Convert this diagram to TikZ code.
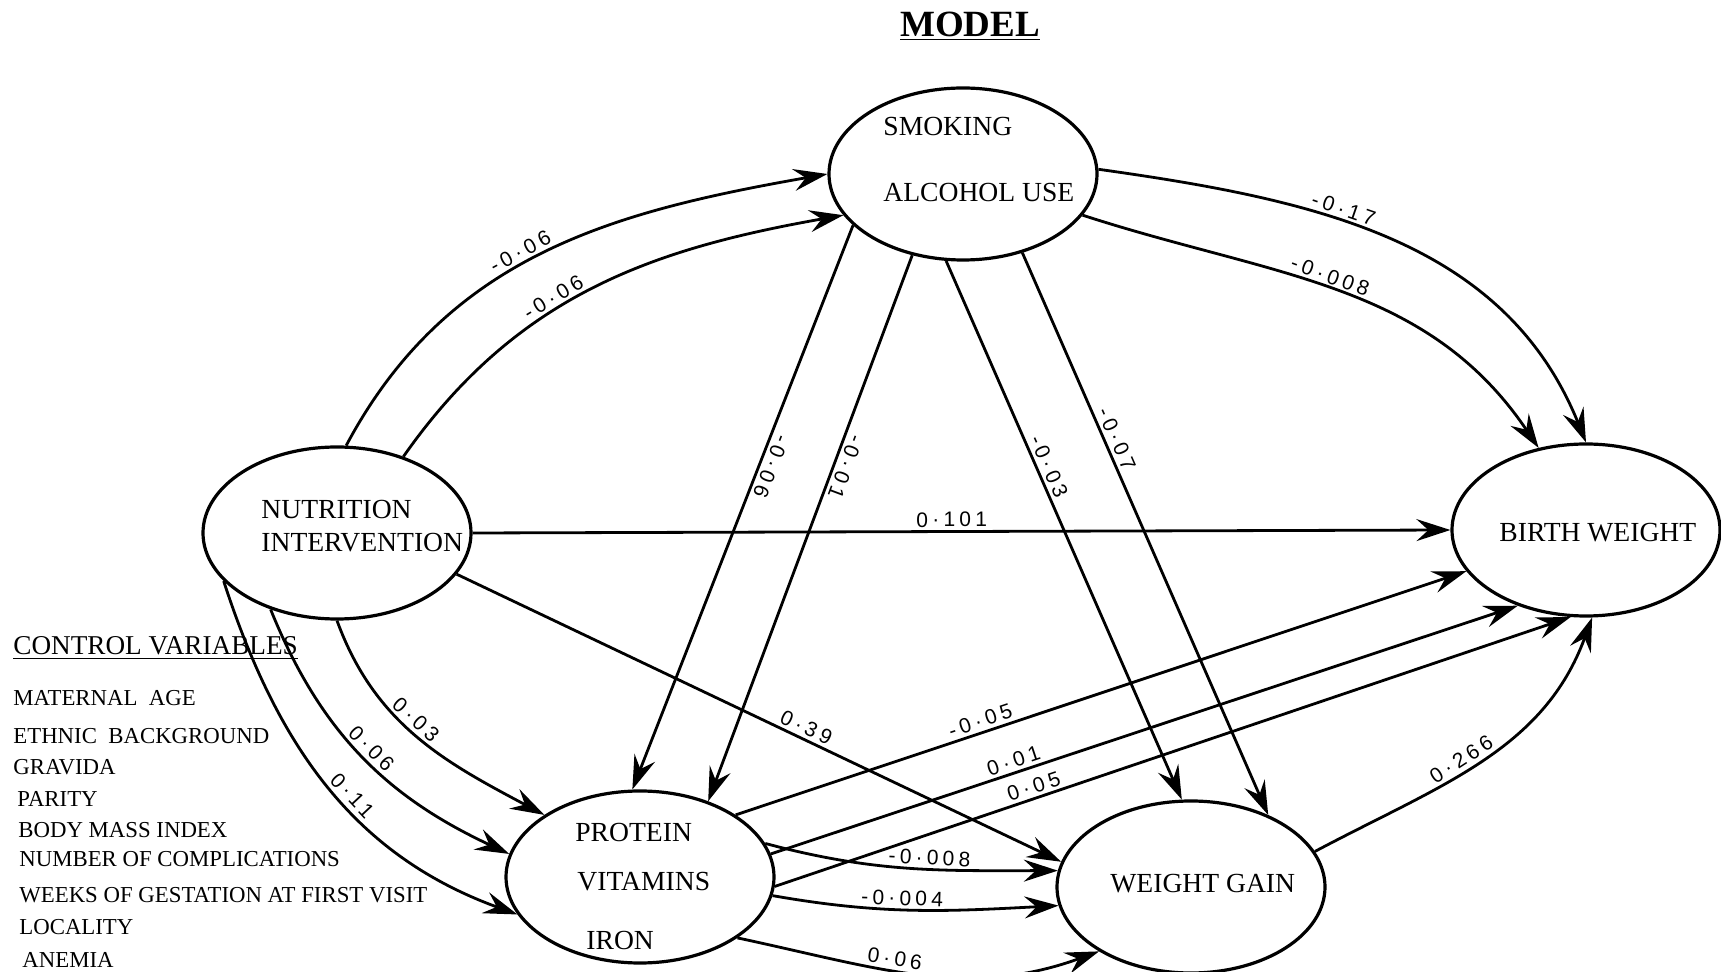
\documentclass[tikz,border=0pt]{standalone}
\usepackage{fontspec}
\setmainfont{Liberation Serif}
\newfontfamily\numfont[LetterSpace=20]{Liberation Sans}
\usetikzlibrary{shapes.geometric,arrows.meta}

\begin{document}
\begin{tikzpicture}[
        x=0.5pt, y=0.5pt,
        blob/.style={ellipse, draw, line width=1.6pt, minimum width=134pt, minimum height=86pt, inner sep=0pt},
        intext/.style={anchor=west, inner sep=0pt, font=\fontsize{13.8}{16}\selectfont},
        ctrlvar/.style={anchor=west, inner sep=0pt, font=\fontsize{11.4}{13}\selectfont},
        arrow/.style={draw, line width=1.4pt, -{Stealth[length=17pt, width=11pt, inset=6pt]}},
        coef/.style={font=\numfont\fontsize{10.5}{12}\selectfont, inner sep=1.5pt, sloped, above}
    ]
    \useasboundingbox (0,0) rectangle (1721,-972);

    % Title
    \node [font=\fontsize{18.5}{20}\selectfont\bfseries] (title) at (970,-26) {\underline{MODEL}};

    % Variables (ellipses)
    \node [blob] (smoke) at (963,-174) {};
    \node [blob] (nutri) at (337,-533) {};
    \node [blob] (birth) at (1586,-530) {};
    \node [blob] (protein) at (640,-877) {};
    \node [blob] (gain) at (1191,-887) {};

    % Their texts
    \node [intext] (smoketxt) at (883,-127) {SMOKING};
    \node [intext] (alcotxt) at (883,-193) {ALCOHOL USE};
    \node [intext] (nutritxt) at (261,-510) {NUTRITION};
    \node [intext] (intervtxt) at (261,-543) {INTERVENTION};
    \node [intext] (birthtxt) at (1499,-533) {BIRTH WEIGHT};
    \node [intext] (proteintxt) at (575,-832) {PROTEIN};
    \node [intext] (vitatxt) at (577,-882) {VITAMINS};
    \node [intext] (irontxt) at (586,-940) {IRON};
    \node [intext] (gaintxt) at (1110,-884) {WEIGHT GAIN};

    % Control variables list
    \node [ctrlvar, font=\fontsize{13.6}{15}\selectfont] (ctrlhead) at (13,-648) {\underline{CONTROL VARIABLES}};
    \node [ctrlvar] (cv1) at (13,-698) {MATERNAL\ \ AGE};
    \node [ctrlvar] (cv2) at (13,-736) {ETHNIC\ \ BACKGROUND};
    \node [ctrlvar] (cv3) at (13,-767) {GRAVIDA};
    \node [ctrlvar] (cv4) at (17,-799) {PARITY};
    \node [ctrlvar] (cv5) at (18,-830) {BODY MASS INDEX};
    \node [ctrlvar] (cv6) at (19,-859) {NUMBER OF COMPLICATIONS};
    \node [ctrlvar] (cv7) at (19,-895) {WEEKS OF GESTATION AT FIRST VISIT};
    \node [ctrlvar] (cv8) at (19,-927) {LOCALITY};
    \node [ctrlvar] (cv9) at (22,-960) {ANEMIA};

    % Nutrition -> smoking
    \path [arrow] (nutri.84) to[out=62, in=190] node[coef, pos=0.46] {-0·06} (smoke.180);
    \path [arrow] (nutri.49) to[out=55, in=190] node[coef, pos=0.42] {-0·06} (smoke.199);

    % Smoking -> birth weight
    \path [arrow] (smoke.2) to[out=-8, in=112] node[coef, pos=0.4] {-0·17} (birth.90);
    \path [arrow] (smoke.-19) to[out=-18, in=124] node[coef, pos=0.47] {-0·008} (birth.120);

    % Smoking -> protein and weight gain
    \path [arrow] (smoke.205) -- node[coef, allow upside down, pos=0.42] {-0·06} (protein.95);
    \path [arrow] (smoke.238) -- node[coef, allow upside down, pos=0.38] {-0·01} (protein.48);
    \path [arrow] (smoke.259) -- node[coef, pos=0.39] {-0·03} (gain.96);
    \path [arrow] (smoke.-53) -- node[coef, pos=0.34] {-0·07} (gain.43);

    % Nutrition -> birth weight, weight gain
    \path [arrow] (nutri.east) -- node[coef, pos=0.49] {0·101} (birth.west);
    \path [arrow] (nutri.-19) -- node[coef, pos=0.57] {0·39} (gain.169);

    % Nutrition -> protein
    \path [arrow] (nutri.-90) to[out=-70, in=152] node[coef, pos=0.45] {0·03} (protein.147);
    \path [arrow] (nutri.-131) to[out=-68, in=155] node[coef, pos=0.5] {0·06} (protein.170);
    \path [arrow] (nutri.203) to[out=-72, in=160] node[coef, pos=0.55] {0·11} (protein.197);

    % Protein -> birth weight
    \path [arrow] (protein.33) -- node[coef, pos=0.34] {-0·05} (birth.199);
    \path [arrow] (protein.10) -- node[coef, pos=0.33] {0·01} (birth.228);
    \path [arrow] (protein.-4) -- node[coef, pos=0.33] {0·05} (birth.260);

    % Protein -> weight gain
    \path [arrow] (protein.15) to[out=-15, in=180] node[coef, pos=0.57] {-0·008} (gain.173);
    \path [arrow] (protein.-8) to[out=-10, in=183] node[coef, pos=0.45] {-0·004} (gain.188);
    \path [arrow] (protein.-32) to[out=-12, in=200] node[coef, pos=0.42] {0·06} (gain.215);

    % Weight gain -> birth weight
    \path [arrow] (gain.16) to[out=28, in=250] node[coef, pos=0.45] {0·266} (birth.-86);

\end{tikzpicture}
\end{document}
